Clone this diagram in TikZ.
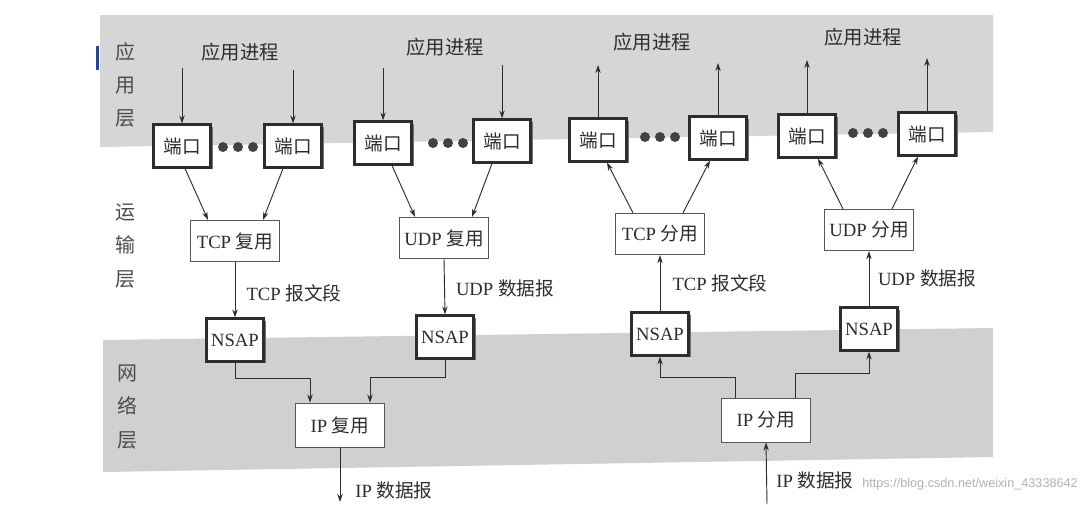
\documentclass[tikz,border=0pt]{standalone}
\usepackage{fontspec}
\setmainfont{Liberation Serif}
\newfontfamily\cjk{Noto Sans CJK SC}
\newfontfamily\wmfont{Liberation Sans}
\usetikzlibrary{shadows,arrows.meta,calc}
\definecolor{band}{RGB}{214,214,214}
\definecolor{band2}{RGB}{208,208,208}
\definecolor{ink}{RGB}{45,45,45}
\definecolor{bluebar}{RGB}{40,70,140}
\tikzset{
  txt/.style={font=\fontsize{14}{16}\selectfont, text=ink, inner sep=0pt},
  portbox/.style={draw=ink, line width=1.8pt, fill=white, minimum width=43pt,
    minimum height=32pt, inner sep=0pt, font=\fontsize{14}{16}\selectfont\cjk, text=ink,
    drop shadow={shadow xshift=1.6pt, shadow yshift=-1.6pt, fill=black!55, opacity=1}},
  nsapbox/.style={portbox, font=\fontsize{14}{16}\selectfont},
  muxbox/.style={draw=ink!80, line width=0.7pt, fill=white, minimum width=67pt,
    minimum height=31pt, inner sep=0pt, font=\fontsize{14}{16}\selectfont, text=ink},
  arr/.style={draw=ink, line width=0.7pt, -{Stealth[length=6pt,width=4pt]}},
  layer/.style={font=\fontsize{15}{25}\selectfont\cjk, text=ink!85, align=center, inner sep=0pt},
  dot/.style={fill=ink!90},
}
\begin{document}
\begin{tikzpicture}[x=0.75pt, y=-0.75pt]
\useasboundingbox (0,0) rectangle (1081,504);
\fill[white] (0,0) rectangle (1081,504);
% grey bands
\fill[band] (100,15) -- (993,15) -- (993,132) -- (100,147) -- cycle;
\fill[band2] (103,340) -- (993,328) -- (993,457) -- (103,472) -- cycle;
\fill[bluebar] (96,46) rectangle (99,70);

% layer labels
\node[layer] (la) at (125,85) {应\\用\\层};
\node[layer] (lt) at (125,246) {运\\输\\层};
\node[layer] (ln) at (127,407) {网\\络\\层};

% application process labels
\node[txt, font=\fontsize{14.5}{16}\selectfont\cjk] (ap1) at (240,52) {应用进程};
\node[txt, font=\fontsize{14.5}{16}\selectfont\cjk] (ap2) at (445,47) {应用进程};
\node[txt, font=\fontsize{14.5}{16}\selectfont\cjk] (ap3) at (652,42) {应用进程};
\node[txt, font=\fontsize{14.5}{16}\selectfont\cjk] (ap4) at (863,37) {应用进程};

% ports
\node[portbox] (p1) at (182,146) {端口};
\node[portbox] (p2) at (293,146) {端口};
\node[portbox] (p3) at (383,143) {端口};
\node[portbox] (p4) at (502,141) {端口};
\node[portbox] (p5) at (598,140) {端口};
\node[portbox] (p6) at (718,138) {端口};
\node[portbox] (p7) at (807,136) {端口};
\node[portbox] (p8) at (927,134) {端口};

% dots
\foreach \x/\y in {223/147,238/147,253/147,433/143,448/143,463/143,645/137,660/137,675/137,853/133,868/133,883/133}
  \fill[dot] (\x,\y) circle (5);

% arrows from/to application processes
\coordinate (t1) at (p1.north |- 0,68);
\coordinate (t2) at (p2.north |- 0,70);
\coordinate (t3) at (p3.north |- 0,68);
\coordinate (t4) at (p4.north |- 0,65);
\coordinate (t5) at (p5.north |- 0,65);
\coordinate (t6) at (p6.north |- 0,63);
\coordinate (t7) at (p7.north |- 0,60);
\coordinate (t8) at (p8.north |- 0,58);
\draw[arr] (t1) -- (p1.north);
\draw[arr] (t2) -- (p2.north);
\draw[arr] (t3) -- (p3.north);
\draw[arr] (t4) -- (p4.north);
\draw[arr] (p5.north) -- (t5);
\draw[arr] (p6.north) -- (t6);
\draw[arr] (p7.north) -- (t7);
\draw[arr] (p8.north) -- (t8);

% multiplexers / demultiplexers
\node[muxbox] (tcpm) at (235,241) {TCP \cjk 复用};
\node[muxbox] (udpm) at (444,238) {UDP \cjk 复用};
\node[muxbox] (tcpd) at (660,234) {TCP \cjk 分用};
\node[muxbox] (udpd) at (869,230) {UDP \cjk 分用};

\draw[arr] ($(p1.south)+(3,0)$) -- ($(tcpm.north)+(-27,0)$);
\draw[arr] ($(p2.south)+(-10,0)$) -- ($(tcpm.north)+(28,0)$);
\draw[arr] ($(p3.south)+(9,0)$) -- ($(udpm.north)+(-29,0)$);
\draw[arr] ($(p4.south)+(-10,0)$) -- ($(udpm.north)+(28,0)$);
\draw[arr] ($(tcpd.north)+(-27,0)$) -- ($(p5.south)+(9,0)$);
\draw[arr] ($(tcpd.north)+(23,0)$) -- ($(p6.south)+(-8,0)$);
\draw[arr] ($(udpd.north)+(-26,0)$) -- ($(p7.south)+(11,0)$);
\draw[arr] ($(udpd.north)+(23,0)$) -- ($(p8.south)+(-9,0)$);

% NSAPs
\node[nsapbox] (n1) at (235,340) {NSAP};
\node[nsapbox] (n2) at (445,337) {NSAP};
\node[nsapbox] (n3) at (660,334) {NSAP};
\node[nsapbox] (n4) at (869,329) {NSAP};

\draw[arr] (tcpm.south) -- (n1.north);
\draw[arr] (udpm.south) -- (n2.north);
\draw[arr] (n3.north) -- (tcpd.south);
\draw[arr] (n4.north) -- (udpd.south);

\node[txt] (l1) at (294,293) {TCP \cjk 报文段};
\node[txt] (l2) at (505,288) {UDP \cjk 数据报};
\node[txt] (l3) at (720,283) {TCP \cjk 报文段};
\node[txt] (l4) at (927,278) {UDP \cjk 数据报};

% IP mux / demux
\node[muxbox, minimum height=33pt] (ipm) at (340,425) {IP \cjk 复用};
\node[muxbox, minimum height=33pt] (ipd) at (766,420) {IP \cjk 分用};

\coordinate (k1) at (310,378);
\coordinate (k2) at (370,377);
\coordinate (k3) at (735,377);
\coordinate (k4) at (795,373);
\draw[arr] (n1.south) |- (k1) -- (k1 |- ipm.north);
\draw[arr] (n2.south) |- (k2) -- (k2 |- ipm.north);
\draw[arr] (k3 |- ipd.north) -- (k3) -| (n3.south);
\draw[arr] (k4 |- ipd.north) -- (k4) -| (n4.south);

\coordinate (out) at (340,502);
\coordinate (in) at (767,504);
\draw[arr] (ipm.south) -- (out);
\draw[arr] (in) -- (ipd.south);
\node[txt] (l5) at (394,490) {IP \cjk 数据报};
\node[txt] (l6) at (815,480) {IP \cjk 数据报};

% watermark
\node[font=\fontsize{9.5}{11}\selectfont\wmfont, text=gray!60, inner sep=0pt, anchor=west] (wm) at (862,484) {https://blog.csdn.net/weixin\_43338642};
\end{tikzpicture}
\end{document}
